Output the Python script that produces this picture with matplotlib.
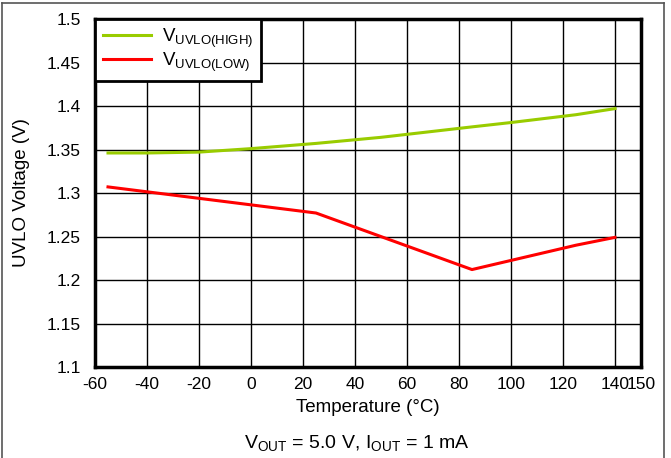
import matplotlib
matplotlib.use('Agg')
import matplotlib.pyplot as plt
from matplotlib.lines import Line2D

plt.rcParams['font.family'] = ['Liberation Sans', 'DejaVu Sans']
plt.rcParams['mathtext.fontset'] = 'custom'
plt.rcParams['mathtext.rm'] = 'Liberation Sans'
plt.rcParams['mathtext.it'] = 'Liberation Sans'
plt.rcParams['mathtext.default'] = 'regular'

# UVLO threshold vs temperature
temp_high = [-55, -40, -20, 0, 25, 50, 85, 100, 125, 140]
uvlo_high = [1.346, 1.346, 1.347, 1.351, 1.357, 1.364, 1.376, 1.381, 1.390, 1.397]
temp_low = [-55, 25, 85, 125, 140]
uvlo_low = [1.307, 1.277, 1.212, 1.240, 1.249]

x_ticks = [-60, -40, -20, 0, 20, 40, 60, 80, 100, 120, 140, 150]
y_ticks = [1.1, 1.15, 1.2, 1.25, 1.3, 1.35, 1.4, 1.45, 1.5]

fig = plt.figure(figsize=(6.71, 4.58), dpi=100)
ax = fig.add_axes([95 / 671, 1 - 367 / 458, 546 / 671, 348 / 458])

ax.plot(temp_high, uvlo_high, color='#99cc00', lw=2.2, label=r'V$_{UVLO(HIGH)}$')
ax.plot(temp_low, uvlo_low, color='#ff0000', lw=2.2, label=r'V$_{UVLO(LOW)}$')

ax.set_xlim(-60, 150)
ax.set_ylim(1.1, 1.5)
ax.set_xticks(x_ticks)
ax.set_xticklabels([str(t) for t in x_ticks])
ax.set_yticks(y_ticks)
ax.set_yticklabels(['1.1', '1.15', '1.2', '1.25', '1.3', '1.35', '1.4', '1.45', '1.5'])
ax.tick_params(length=0, labelsize=12.5)
ax.tick_params(axis='y', pad=10)
ax.tick_params(axis='x', pad=7)
ax.grid(True, color='black', lw=1.0)
ax.set_axisbelow(True)
for s in ax.spines.values():
    s.set_linewidth(2.5)

ax.set_xlabel('Temperature (°C)', fontsize=13.5, labelpad=5)
ax.set_ylabel('UVLO Voltage (V)', fontsize=13.5, labelpad=12)

leg = ax.legend(loc='upper left', fontsize=13.5, frameon=True, fancybox=False,
                borderaxespad=0, handlelength=2.6, handletextpad=0.6,
                labelspacing=0.05, borderpad=0.4)
leg.get_frame().set_edgecolor('black')
leg.get_frame().set_linewidth(2.0)
leg.get_frame().set_alpha(1)

fig.text(357 / 671, 1 - 443 / 458, r'V$_{OUT}$ = 5.0 V, I$_{OUT}$ = 1 mA',
         ha='center', va='center', fontsize=14)

# outer frame
fig.add_artist(Line2D([1.5 / 671, 1.5 / 671], [0, 1 - 3 / 458], color='#555555', lw=1.2))
fig.add_artist(Line2D([1.5 / 671, 664 / 671], [1 - 3 / 458, 1 - 3 / 458], color='#555555', lw=1.2))
fig.add_artist(Line2D([664 / 671, 664 / 671], [0, 1 - 3 / 458], color='#555555', lw=1.2))

fig.savefig('out.png', dpi=100)
